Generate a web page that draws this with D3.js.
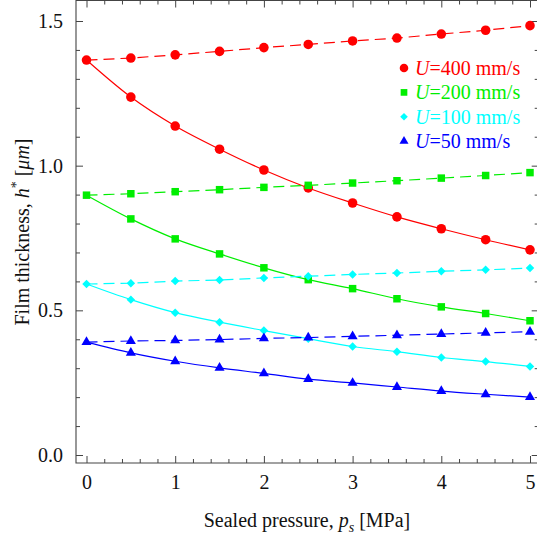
<!DOCTYPE html>
<html>
<head>
<meta charset="utf-8">
<title>Film thickness vs sealed pressure</title>
<script src="https://d3js.org/d3.v7.min.js"></script>
<style>
  body { margin: 0; background: #fff; }
  text { font-family: "Liberation Serif", "Times New Roman", serif; }
</style>
</head>
<body>
<div id="chart"></div>
<script>
// data
const pressure = [0, 0.5, 1, 1.5, 2, 2.5, 3, 3.5, 4, 4.5, 5];

const u400Dashed = [1.365, 1.372, 1.383, 1.395, 1.408, 1.419, 1.431, 1.441, 1.455, 1.468, 1.484];
const u400Solid  = [1.365, 1.237, 1.137, 1.057, 0.985, 0.923, 0.871, 0.823, 0.782, 0.744, 0.709];
const u200Dashed = [0.898, 0.903, 0.910, 0.917, 0.925, 0.932, 0.940, 0.948, 0.957, 0.966, 0.976];
const u200Solid  = [0.898, 0.816, 0.747, 0.695, 0.647, 0.606, 0.575, 0.540, 0.512, 0.489, 0.464];
const u100Dashed = [0.591, 0.594, 0.601, 0.605, 0.612, 0.618, 0.624, 0.629, 0.635, 0.640, 0.646];
const u100Solid  = [0.591, 0.537, 0.492, 0.459, 0.430, 0.402, 0.375, 0.357, 0.337, 0.323, 0.306];
const u50Dashed  = [0.390, 0.394, 0.396, 0.399, 0.403, 0.406, 0.410, 0.414, 0.418, 0.422, 0.426];
const u50Solid   = [0.390, 0.353, 0.324, 0.301, 0.282, 0.262, 0.249, 0.235, 0.221, 0.210, 0.200];

const speeds = ["400", "200", "100", "50"];
const xTicks = [0, 1, 2, 3, 4, 5];
const yTicks = [0, 0.5, 1.0, 1.5];

const width = 537, height = 537;
// frame edges (pixels)
const frame = { left: 76, right: 538.7, top: 0.5, bottom: 463 };

const svg = d3.select("#chart").append("svg")
  .attr("width", width)
  .attr("height", height);

const x = d3.scaleLinear().domain([0, 5]).range([86.5, 530]);
const y = d3.scaleLinear().domain([0, 1.5]).range([455, 21]);

const frameColor = "#444";

const series = [
  { speed: speeds[0], color: "#ff0000", symbol: d3.symbolCircle, size: 72, dashed: u400Dashed, solid: u400Solid },
  { speed: speeds[1], color: "#00ee00", symbol: d3.symbolSquare, size: 56, dashed: u200Dashed, solid: u200Solid },
  { speed: speeds[2], color: "#00ffff", symbol: d3.symbolDiamond2, size: 46, dashed: u100Dashed, solid: u100Solid },
  { speed: speeds[3], color: "#0000ff", symbol: d3.symbolTriangle, size: 44, dashed: u50Dashed, solid: u50Solid }
];

// frame ticks: major + minor, all pointing inwards
function styleAxis(g) {
  g.select(".domain").remove();
  g.selectAll(".tick line").attr("stroke", frameColor).attr("stroke-width", 1);
  g.selectAll(".tick text").attr("fill", "#111").style("font-size", "20px")
    .style("font-family", "'Liberation Serif', serif");
}

const xMinor = d3.range(-0.0, 5.01, 0.2).filter(v => Math.abs(v - Math.round(v)) > 1e-6);
const yMinor = d3.range(0, 1.56, 0.1).filter(v => Math.abs(v * 2 - Math.round(v * 2)) > 1e-6);

svg.append("g").attr("transform", `translate(0,${frame.bottom})`)
  .call(d3.axisBottom(x).tickValues(xTicks).tickSize(-7).tickPadding(12).tickFormat(d3.format("d")))
  .call(styleAxis);
svg.append("g").attr("transform", `translate(0,${frame.bottom})`)
  .call(d3.axisBottom(x).tickValues(xMinor).tickSize(-4).tickFormat(""))
  .call(styleAxis);
svg.append("g").attr("transform", `translate(0,${frame.top})`)
  .call(d3.axisTop(x).tickValues(xTicks).tickSize(-7).tickFormat(""))
  .call(styleAxis);
svg.append("g").attr("transform", `translate(0,${frame.top})`)
  .call(d3.axisTop(x).tickValues(xMinor).tickSize(-4).tickFormat(""))
  .call(styleAxis);

svg.append("g").attr("transform", `translate(${frame.left},0)`)
  .call(d3.axisLeft(y).tickValues(yTicks).tickSize(-7).tickPadding(13).tickFormat(d3.format(".1f")))
  .call(styleAxis);
svg.append("g").attr("transform", `translate(${frame.left},0)`)
  .call(d3.axisLeft(y).tickValues(yMinor).tickSize(-4).tickFormat(""))
  .call(styleAxis);
svg.append("g").attr("transform", `translate(${frame.right},0)`)
  .call(d3.axisRight(y).tickValues(yTicks).tickSize(-7).tickFormat(""))
  .call(styleAxis);
svg.append("g").attr("transform", `translate(${frame.right},0)`)
  .call(d3.axisRight(y).tickValues(yMinor).tickSize(-4).tickFormat(""))
  .call(styleAxis);

// frame lines
svg.append("path")
  .attr("d", `M${frame.right},${frame.top}H${frame.left}V${frame.bottom}H${frame.right}Z`)
  .attr("fill", "none")
  .attr("stroke", frameColor)
  .attr("stroke-width", 1.1);

// lines and markers
const lineStraight = d3.line().x(d => x(d[0])).y(d => y(d[1]));
const lineSmooth = d3.line().x(d => x(d[0])).y(d => y(d[1])).curve(d3.curveMonotoneX);

series.forEach(s => {
  const dashedPts = pressure.map((p, i) => [p, s.dashed[i]]);
  const solidPts = pressure.map((p, i) => [p, s.solid[i]]);

  svg.append("path")
    .attr("d", lineStraight(dashedPts))
    .attr("fill", "none")
    .attr("stroke", s.color)
    .attr("stroke-width", 1.2)
    .attr("stroke-dasharray", "11,6");

  svg.append("path")
    .attr("d", lineSmooth(solidPts))
    .attr("fill", "none")
    .attr("stroke", s.color)
    .attr("stroke-width", 1.2);

  const sym = d3.symbol().type(s.symbol).size(s.size);
  svg.selectAll(null)
    .data(dashedPts.concat(solidPts.slice(1)))
    .enter().append("path")
    .attr("d", sym)
    .attr("transform", d => `translate(${x(d[0])},${y(d[1])})`)
    .attr("fill", s.color);
});

// legend
const legend = svg.append("g").attr("transform", "translate(404,68)");
series.forEach((s, i) => {
  const row = legend.append("g").attr("transform", `translate(0,${i * 24.4})`);
  row.append("path")
    .attr("d", d3.symbol().type(s.symbol).size(s.size * 0.8))
    .attr("fill", s.color);
  const t = row.append("text")
    .attr("x", 11)
    .attr("y", 7)
    .attr("fill", s.color)
    .style("font-size", "20px");
  t.append("tspan").style("font-style", "italic").text("U");
  t.append("tspan").text("=" + s.speed + " mm/s");
});

// axis titles
const xTitle = svg.append("text")
  .attr("x", 307)
  .attr("y", 527)
  .attr("text-anchor", "middle")
  .attr("fill", "#111")
  .style("font-size", "20px");
xTitle.append("tspan").text("Sealed pressure, ");
xTitle.append("tspan").style("font-style", "italic").text("p");
xTitle.append("tspan").style("font-style", "italic").style("font-size", "14px").attr("dy", 5).text("s");
xTitle.append("tspan").attr("dy", -5).text(" [MPa]");

const yTitle = svg.append("text")
  .attr("transform", "translate(29,232) rotate(-90)")
  .attr("text-anchor", "middle")
  .attr("fill", "#111")
  .style("font-size", "20px");
yTitle.append("tspan").text("Film thickness, ");
yTitle.append("tspan").style("font-style", "italic").text("h");
yTitle.append("tspan").style("font-size", "14px").attr("dy", -8).text("*");
yTitle.append("tspan").attr("dy", 8).text(" [");
yTitle.append("tspan").style("font-style", "italic").text("\u03bcm");
yTitle.append("tspan").text("]");
</script>
</body>
</html>
